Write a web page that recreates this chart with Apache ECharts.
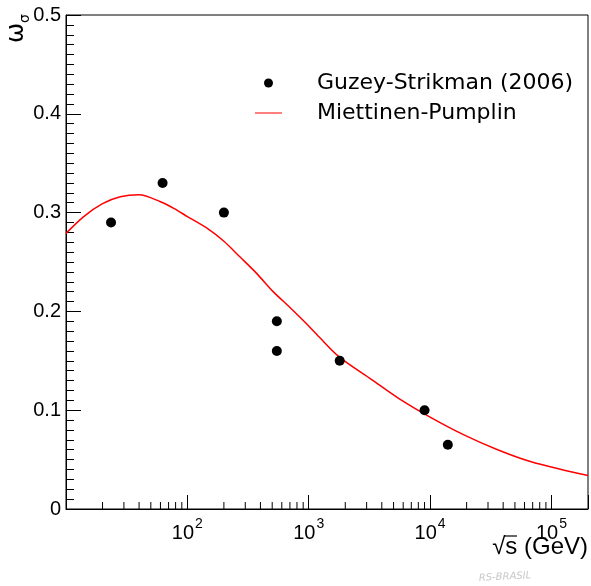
<!DOCTYPE html>
<html>
<head>
<meta charset="utf-8">
<script src="https://cdn.jsdelivr.net/npm/echarts@6/dist/echarts.min.js"></script>
<style>
html,body{margin:0;padding:0;background:#fff;}
#chart{width:591px;height:586px;}
</style>
</head>
<body>
<div id="chart"></div>
<script>
// Guzey-Strikman points
var gsEnergy = [23.5, 62.5, 200, 546, 546, 1800, 9000, 14000];
var gsOmega = [0.29, 0.33, 0.30, 0.19, 0.16, 0.15, 0.10, 0.065];

// Miettinen-Pumplin curve
var mpEnergy = [10, 14, 20, 28, 40, 60, 78, 100, 146, 200, 272, 372, 509, 700, 950, 1220, 1780, 3300, 5500, 10000, 19000, 36000, 67000, 125000, 200000];
var mpOmega = [0.279, 0.296, 0.309, 0.316, 0.318, 0.311, 0.304, 0.296, 0.284, 0.271, 0.255, 0.2385, 0.220, 0.204, 0.188, 0.174, 0.154, 0.131, 0.112, 0.093, 0.075, 0.060, 0.048, 0.0395, 0.034];

var seriesNames = ['Guzey-Strikman (2006)', 'Miettinen-Pumplin'];

// minor ticks for the log x axis (2..9 x 10^k)
var xMinorTicks = [];
for (var k = 1; k <= 4; k++) {
	for (var m = 2; m <= 9; m++) {
		xMinorTicks.push(m * Math.pow(10, k));
	}
}

var chart = echarts.init(document.getElementById('chart'));

var gsData = gsEnergy.map(function(e, i){ return [e, gsOmega[i]]; });
var mpData = mpEnergy.map(function(e, i){ return [e, mpOmega[i]]; });

var labelFont = 'Liberation Sans';

var option = {
	animation: false,
	grid: {
		left: 66, right: 3, top: 15, bottom: 77,
		show: true, borderColor: '#000', borderWidth: 1
	},
	legend: {
		data: [
			{ name: seriesNames[0], icon: 'circle' },
			{ name: seriesNames[1], icon: 'path://M0,0L0.01,0L0.01,0.01ZM0,3.9L27,3.9L27,5.1L0,5.1ZM0,9L0.01,9L0.01,9.01Z' }
		],
		orient: 'vertical',
		left: 250, top: 66,
		itemWidth: 27, itemHeight: 9, itemGap: 6,
		selectedMode: false,
		textStyle: {
			fontFamily: 'DejaVu Sans', fontSize: 22, color: '#000',
			lineHeight: 24, padding: [0, 0, 0, 30]
		}
	},
	xAxis: {
		type: 'log',
		logBase: 10,
		min: 10,
		max: 200000,
		splitLine: { show: false },
		axisLine: { show: true, lineStyle: { color: '#000', width: 1 } },
		axisTick: { inside: true, length: 14, lineStyle: { color: '#000' } },
		axisLabel: {
			color: '#000', fontSize: 20, fontFamily: labelFont, margin: 8,
			formatter: function(v){
				var k = Math.log10(v);
				var r = Math.round(k);
				if (Math.abs(k - r) > 1e-6 || r < 2) return '';
				return '{b|10}{s|' + r + '}';
			},
			rich: {
				b: { fontSize: 20, fontFamily: labelFont, color: '#000', lineHeight: 26, verticalAlign: 'bottom' },
				s: { fontSize: 14, fontFamily: labelFont, color: '#000', lineHeight: 26, verticalAlign: 'top', padding: [0, 0, 0, 1] }
			}
		}
	},
	yAxis: {
		type: 'value',
		min: 0, max: 0.5, interval: 0.1,
		splitLine: { show: false },
		axisLine: { show: true, lineStyle: { color: '#000', width: 1 } },
		axisTick: { inside: true, length: 15, lineStyle: { color: '#000' } },
		minorTick: { show: true, splitNumber: 10, length: 8, lineStyle: { color: '#000' } },
		axisLabel: {
			color: '#000', fontSize: 20, fontFamily: labelFont, margin: 5,
			formatter: function(v){ return v === 0 ? '0' : v.toFixed(1); }
		}
	},
	graphic: [
		{
			type: 'text', x: 17, y: 43, rotation: Math.PI / 2,
			style: { text: 'ω', fontSize: 24, fontFamily: 'DejaVu Sans', fill: '#000', textAlign: 'left', textVerticalAlign: 'middle' }
		},
		{
			type: 'text', x: 25, y: 23, rotation: Math.PI / 2,
			style: { text: 'σ', fontSize: 14, fontFamily: 'DejaVu Sans', fill: '#000', textAlign: 'left', textVerticalAlign: 'middle' }
		},
		{
			type: 'text', x: 588, y: 547,
			style: { text: '√s (GeV)', fontSize: 24, fontFamily: labelFont, fill: '#000', textAlign: 'right', textVerticalAlign: 'middle' }
		},
		{
			type: 'line', shape: { x1: 504, y1: 536, x2: 517, y2: 536 },
			style: { stroke: '#000', lineWidth: 1.2 }
		},
		{
			type: 'text', x: 505, y: 577, rotation: 0.05,
			style: { text: 'RS-BRASIL', fontSize: 10, fontStyle: 'italic', fontFamily: 'DejaVu Sans', fill: '#c8c8c8', textAlign: 'center', textVerticalAlign: 'middle' }
		}
	],
	series: [
		{
			name: seriesNames[0],
			type: 'scatter',
			symbol: 'circle',
			symbolSize: 10,
			itemStyle: { color: '#000', opacity: 1 },
			data: gsData,
			z: 3
		},
		{
			name: seriesNames[1],
			type: 'line',
			symbol: 'none',
			smooth: 0.3,
			lineStyle: { color: '#ff0000', width: 1.5 },
			itemStyle: { color: '#ff0000' },
			data: mpData,
			z: 2
		},
		{
			name: 'minorTicksX',
			type: 'custom',
			silent: true,
			clip: false,
			data: xMinorTicks.map(function(v){ return [v, 0]; }),
			renderItem: function(params, api){
				var p = api.coord([api.value(0), 0]);
				return {
					type: 'line',
					shape: { x1: p[0], y1: p[1], x2: p[0], y2: p[1] - 7 },
					style: { stroke: '#000', lineWidth: 1 }
				};
			}
		}
	]
};

chart.setOption(option);
</script>
</body>
</html>
